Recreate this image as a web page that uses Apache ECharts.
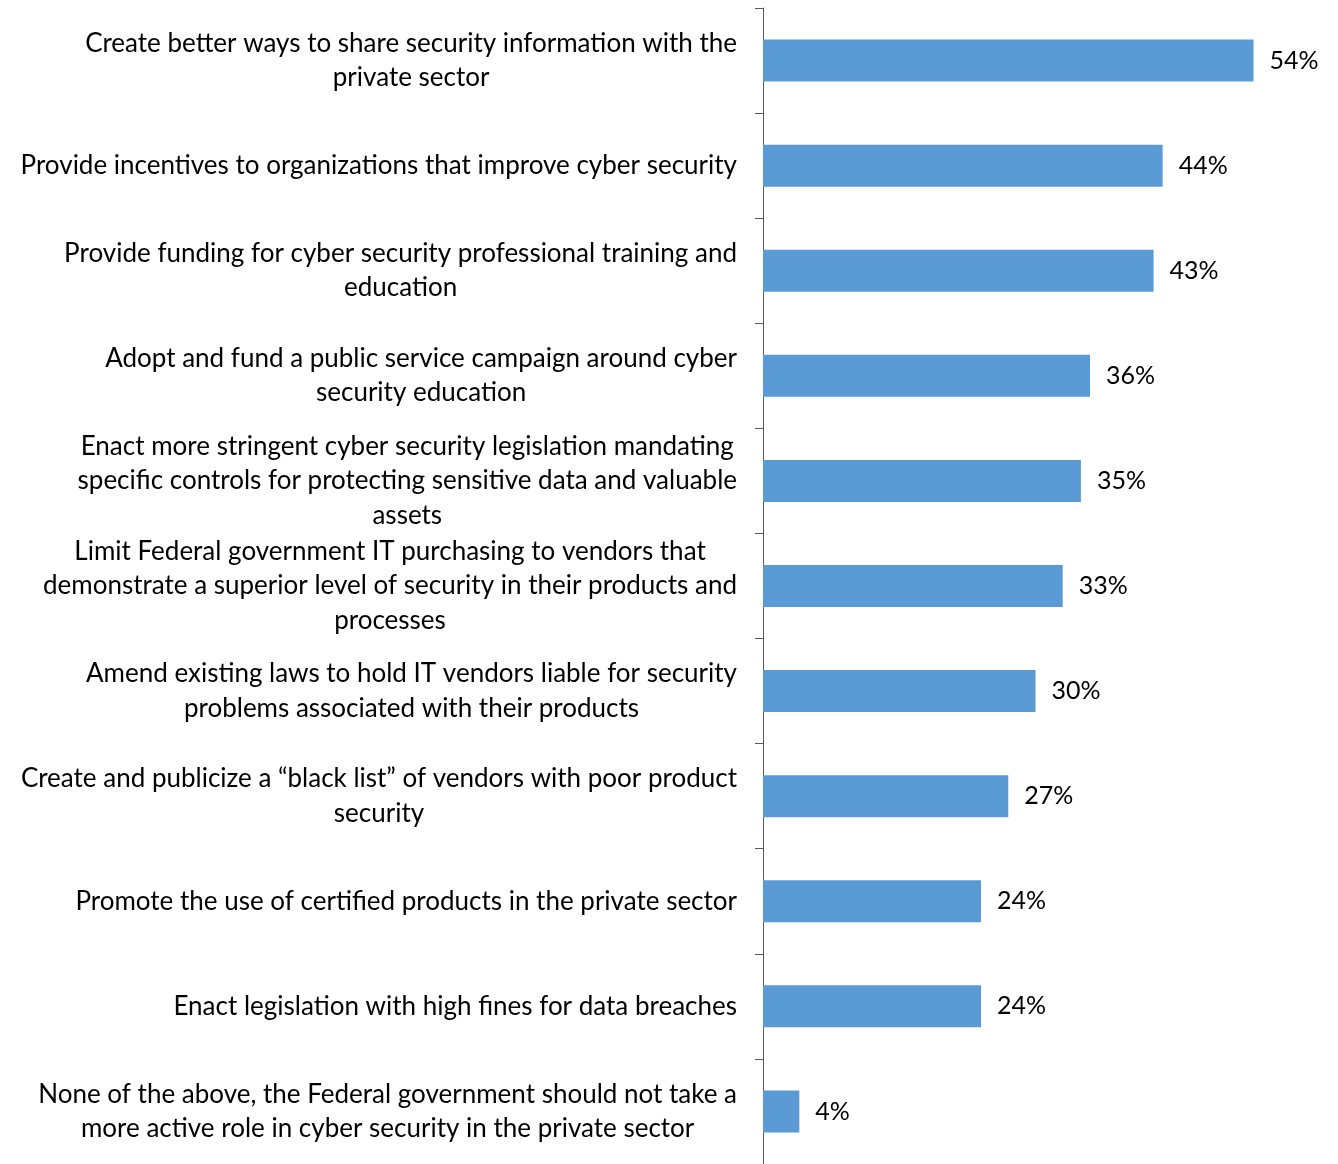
<!DOCTYPE html>
<html>
<head>
<meta charset="utf-8">
<style>
  html, body { margin: 0; padding: 0; background: #ffffff; }
  #chart { width: 1338px; height: 1164px; }
</style>
<script src="https://cdn.jsdelivr.net/npm/echarts@6/dist/echarts.min.js"></script>
</head>
<body>
<div id="chart"></div>
<script>
// Survey answers, top to bottom, with the line breaks used in the labels
const categories = [
  'Create better ways to share security information with the\nprivate sector',
  'Provide incentives to organizations that improve cyber security',
  'Provide funding for cyber security professional training and\neducation',
  'Adopt and fund a public service campaign around cyber\nsecurity education',
  'Enact more stringent cyber security legislation mandating\nspecific controls for protecting sensitive data and valuable\nassets',
  'Limit Federal government IT purchasing to vendors that\ndemonstrate a superior level of security in their products and\nprocesses',
  'Amend existing laws to hold IT vendors liable for security\nproblems associated with their products',
  'Create and publicize a \u201cblack list\u201d of vendors with poor product\nsecurity',
  'Promote the use of certified products in the private sector',
  'Enact legislation with high fines for data breaches',
  'None of the above, the Federal government should not take a\nmore active role in cyber security in the private sector'
];

// Share of respondents (%)
const percentages = [54, 44, 43, 36, 35, 33, 30, 27, 24, 24, 4];

const FONT = 'Lato, "Open Sans", sans-serif';
const FONT_SIZE = 26;

const chart = echarts.init(document.getElementById('chart'), null, { renderer: 'canvas' });

chart.setOption({
  backgroundColor: '#ffffff',
  animation: false,
  grid: { left: 763, top: 8, width: 545, height: 1158, containLabel: false },
  xAxis: {
    type: 'value',
    min: 0,
    max: 60,
    show: false
  },
  yAxis: {
    type: 'category',
    inverse: true,
    data: categories,
    axisLine: { show: true, lineStyle: { color: '#595959', width: 1 } },
    axisTick: { show: true, inside: false, length: 8, lineStyle: { color: '#595959', width: 1 } },
    axisLabel: {
      margin: 26,
      align: 'right',
      // each line centred on the widest line of its label
      formatter: function (value) {
        return value.split('\n').map(function (l) { return '{c|' + l + '}'; }).join('\n');
      },
      rich: {
        c: {
          align: 'center',
          fontFamily: FONT,
          fontSize: FONT_SIZE,
          lineHeight: 34.5,
          color: '#000000'
        }
      }
    },
    splitLine: { show: false }
  },
  series: [{
    type: 'bar',
    data: percentages,
    barWidth: 42,
    itemStyle: { color: '#5b9bd5' },
    label: {
      show: true,
      position: 'right',
      distance: 16,
      formatter: '{c}%',
      fontFamily: FONT,
      fontSize: 25,
      color: '#000000'
    }
  }]
});
</script>
</body>
</html>
